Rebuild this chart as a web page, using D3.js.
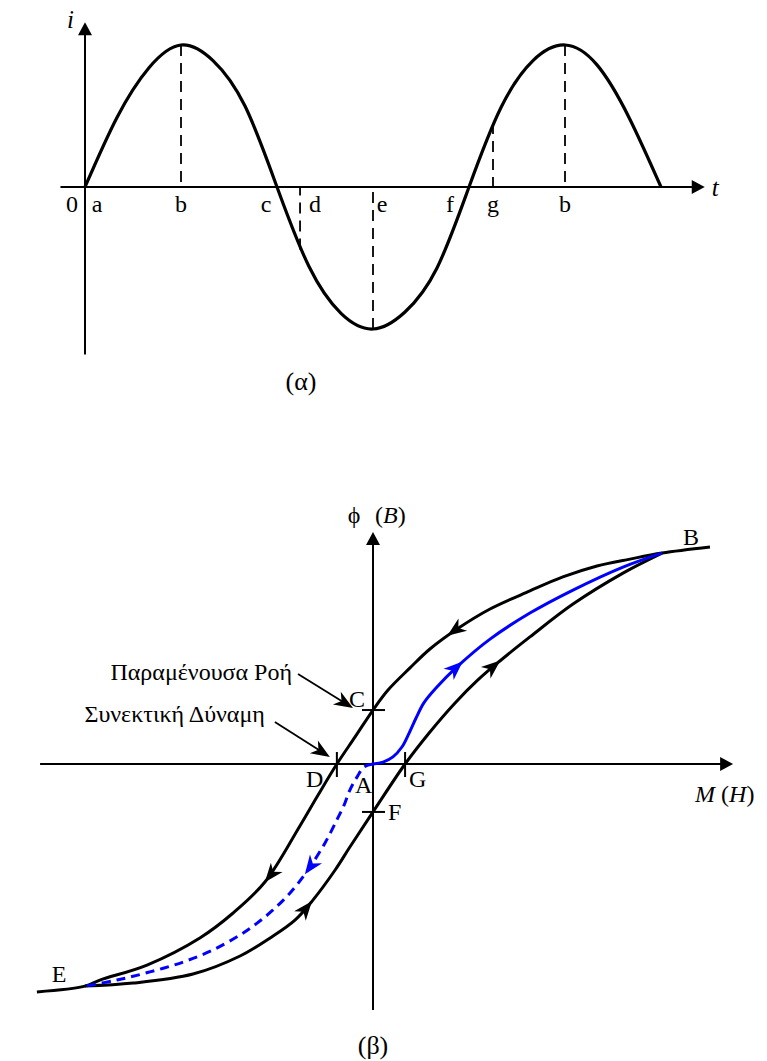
<!DOCTYPE html>
<html>
<head>
<meta charset="utf-8">
<script src="https://cdn.jsdelivr.net/npm/d3@7"></script>
<style>
  body { margin: 0; background: #fff; }
  svg { display: block; }
  text { font-family: "Liberation Serif", "Times New Roman", serif; fill: #000; }
</style>
</head>
<body>
<svg id="fig" width="767" height="1061"></svg>
<script>
// ---------- (α) alternating current i(t) ----------
const phaseDeg = [0, 30, 60, 90, 120, 150, 180, 210, 240, 270, 300, 330, 360, 390, 420, 450, 480, 510, 540];
const currentI = [0, 0.49, 0.84, 1, 0.89, 0.57, 0, -0.56, -0.89, -1, -0.88, -0.57, 0, 0.56, 0.89, 1, 0.86, 0.49, 0];
const tAxisExtent = [-23, 581];
const iAxisExtent = [-1.18, 1.16];
const markLabel = ["0", "a", "b", "c", "d", "e", "f", "g", "b"];
const markPhase = [0, 0, 90, 180, 201.6, 270, 360, 382.5, 450];
const guidePhase = [90, 201.6, 270, 382.5, 450];
const guideLevel = [1, -0.44, -1, 0.45, 1];

// ---------- (β) hysteresis loop φ(B) vs M(H) ----------
const upperH = [11.66, 10.00, 8.89, 7.75, 6.57, 5.43, 4.05, 2.91, 1.97, 1.28, 0.52, 0.00, -0.62, -1.25, -1.90, -2.53, -3.74, -4.84, -5.99, -7.82, -9.45, -9.97, -11.63];
const upperB = [10.09, 9.81, 9.53, 9.21, 8.70, 8.05, 7.21, 6.28, 5.35, 4.47, 3.44, 2.51, 1.26, 0.00, -1.44, -2.88, -5.49, -6.93, -8.09, -9.35, -10.05, -10.33, -10.60];
const lowerH = [-9.97, -8.30, -6.23, -4.60, -3.56, -2.70, -2.08, -1.31, -0.80, 0.00, 1.11, 1.97, 2.84, 3.63, 4.39, 5.43, 6.92, 8.65, 10.00];
const lowerB = [-10.33, -10.19, -9.77, -8.93, -8.09, -7.26, -6.33, -4.93, -3.86, -2.23, 0.00, 1.49, 2.84, 3.91, 4.79, 5.91, 7.44, 8.88, 9.81];
const initialH = [0, 0.35, 0.69, 1.00, 1.25, 1.49, 1.76, 2.18, 2.94, 4.05, 5.43, 6.92, 8.65, 10.00];
const initialB = [0, 0.09, 0.33, 0.79, 1.44, 2.14, 2.84, 3.53, 4.56, 5.81, 7.02, 8.09, 9.16, 9.81];
const returnH = [0, -0.31, -0.55, -0.80, -1.00, -1.25, -1.66, -2.25, -2.87, -3.46, -4.01, -4.60, -5.54, -6.57, -7.72, -8.86, -9.97];
const returnB = [0, -0.14, -0.60, -1.21, -1.91, -2.60, -3.67, -4.93, -6.00, -6.79, -7.40, -7.95, -8.65, -9.21, -9.67, -10.05, -10.33];
const hAxisExtent = [-11.52, 12.46];
const bAxisExtent = [-11.44, 10.79];
const pointName = ["C", "D", "A", "G", "F", "B", "E"];
const pointH = [0, -1.25, 0, 1.11, 0, 10.00, -9.97];
const pointB = [2.51, 0, 0, 0, -2.23, 9.81, -10.33];
// direction markers on each branch: [H, B]
const upperArrows = [[2.60, 5.91], [-3.74, -5.49]];
const lowerArrows = [[-2.08, -6.42], [4.39, 4.84]];
const initialArrows = [[3.11, 4.74]];
const returnArrows = [[-2.42, -5.07]];

const svg = d3.select("#fig");
const BLUE = "#0000ff";
const FS = 24;

function zipPts(xs, ys) { return xs.map((x, k) => [x, ys[k]]); }

function triangle(g, x, y, angle, color, notched) {
  const d = notched ? "M0,0L-19,-7.5L-13.5,0L-19,7.5Z" : "M0,0L-13,-7L-13,7Z";
  g.append("path").attr("d", d)
    .attr("transform", `translate(${x},${y}) rotate(${angle})`)
    .attr("fill", color);
}

// place arrowheads on a path at the points nearest to given targets, pointing along the path
function arrowsOnPath(g, pathNode, targets, color) {
  const L = pathNode.getTotalLength();
  targets.forEach(([tx, ty]) => {
    let best = 0, bestD = Infinity;
    for (let s = 0; s <= L; s += 0.5) {
      const p = pathNode.getPointAtLength(s);
      const dd = (p.x - tx) ** 2 + (p.y - ty) ** 2;
      if (dd < bestD) { bestD = dd; best = s; }
    }
    const p = pathNode.getPointAtLength(best);
    const a = pathNode.getPointAtLength(Math.max(0, best - 4));
    const b = pathNode.getPointAtLength(Math.min(L, best + 4));
    const ang = Math.atan2(b.y - a.y, b.x - a.x) * 180 / Math.PI;
    triangle(g, p.x, p.y, ang, color, true);
  });
}

// ================= panel (α) =================
{
  const g = svg.append("g");
  const x = d3.scaleLinear().domain([0, 540]).range([85, 661]);
  const y = d3.scaleLinear().domain([-1, 1]).range([329, 45]);

  // axes
  const ax0 = x(tAxisExtent[0]), ax1 = x(tAxisExtent[1]);
  g.append("line").attr("x1", ax0).attr("x2", ax1 - 8).attr("y1", y(0)).attr("y2", y(0))
    .attr("stroke", "#000").attr("stroke-width", 2);
  triangle(g, ax1, y(0), 0, "#000", false);
  const ay0 = y(iAxisExtent[0]), ay1 = y(iAxisExtent[1]);
  g.append("line").attr("x1", x(0)).attr("x2", x(0)).attr("y1", ay0).attr("y2", ay1 + 8)
    .attr("stroke", "#000").attr("stroke-width", 2);
  triangle(g, x(0), ay1, -90, "#000", false);

  // dashed guides
  g.selectAll("line.guide").data(guidePhase).join("line").attr("class", "guide")
    .attr("x1", d => x(d)).attr("x2", d => x(d))
    .attr("y1", (d, k) => y(guideLevel[k])).attr("y2", y(0))
    .attr("stroke", "#000").attr("stroke-width", 1.8).attr("stroke-dasharray", "11,7");

  // waveform
  const line = d3.line().x(d => x(d[0])).y(d => y(d[1])).curve(d3.curveNatural);
  g.append("path").attr("d", line(zipPts(phaseDeg, currentI)))
    .attr("fill", "none").attr("stroke", "#000").attr("stroke-width", 3.2)
    .attr("stroke-linejoin", "round");

  // phase labels
  const labelDx = [-13, 12, 0, -11, 15, 9, -19, 0, 0];
  g.selectAll("text.mark").data(markLabel).join("text").attr("class", "mark")
    .attr("x", (d, k) => x(markPhase[k]) + labelDx[k]).attr("y", y(0) + 25)
    .attr("text-anchor", "middle").attr("font-size", FS).text(d => d);

  g.append("text").attr("x", x(0) - 18).attr("y", ay1 + 6).attr("font-size", 25)
    .attr("font-style", "italic").text("i");
  g.append("text").attr("x", ax1 + 7).attr("y", y(0) + 9).attr("font-size", 25)
    .attr("font-style", "italic").text("t");

  g.append("text").attr("x", 301).attr("y", 390).attr("text-anchor", "middle")
    .attr("font-size", 26).text("(α)");
}

// ================= panel (β) =================
{
  const g = svg.append("g");
  const x = d3.scaleLinear().domain([-12, 12]).range([373 - 12 * 28.9, 373 + 12 * 28.9]);
  const y = d3.scaleLinear().domain([-12, 12]).range([764 + 12 * 21.5, 764 - 12 * 21.5]);

  // axes
  const hx0 = x(hAxisExtent[0]), hx1 = x(hAxisExtent[1]);
  g.append("line").attr("x1", hx0).attr("x2", hx1 - 8).attr("y1", y(0)).attr("y2", y(0))
    .attr("stroke", "#000").attr("stroke-width", 2);
  triangle(g, hx1, y(0), 0, "#000", false);
  const vy0 = y(bAxisExtent[0]), vy1 = y(bAxisExtent[1]);
  g.append("line").attr("x1", x(0)).attr("x2", x(0)).attr("y1", vy0).attr("y2", vy1 + 8)
    .attr("stroke", "#000").attr("stroke-width", 2);
  triangle(g, x(0), vy1, -90, "#000", false);

  const line = d3.line().x(d => x(d[0])).y(d => y(d[1])).curve(d3.curveCatmullRom.alpha(0.5));

  const upper = g.append("path").attr("d", line(zipPts(upperH, upperB)))
    .attr("fill", "none").attr("stroke", "#000").attr("stroke-width", 3);
  const lower = g.append("path").attr("d", line(zipPts(lowerH, lowerB)))
    .attr("fill", "none").attr("stroke", "#000").attr("stroke-width", 3);
  const initial = g.append("path").attr("d", line(zipPts(initialH, initialB)))
    .attr("fill", "none").attr("stroke", BLUE).attr("stroke-width", 3);
  const ret = g.append("path").attr("d", line(zipPts(returnH, returnB)))
    .attr("fill", "none").attr("stroke", BLUE).attr("stroke-width", 3)
    .attr("stroke-dasharray", "9,6");

  const px = a => [x(a[0]), y(a[1])];
  arrowsOnPath(g, upper.node(), upperArrows.map(px), "#000");
  arrowsOnPath(g, lower.node(), lowerArrows.map(px), "#000");
  arrowsOnPath(g, initial.node(), initialArrows.map(px), BLUE);
  arrowsOnPath(g, ret.node(), returnArrows.map(px), BLUE);

  // tick marks at C, F (horizontal) and D, G (vertical)
  pointName.forEach((n, k) => {
    const cx = x(pointH[k]), cy = y(pointB[k]);
    if (n === "C" || n === "F") {
      g.append("line").attr("x1", cx - 11).attr("x2", cx + 12).attr("y1", cy).attr("y2", cy)
        .attr("stroke", "#000").attr("stroke-width", 2);
    } else if (n === "D" || n === "G") {
      g.append("line").attr("x1", cx).attr("x2", cx).attr("y1", cy - 12).attr("y2", cy + 13)
        .attr("stroke", "#000").attr("stroke-width", 2);
    }
  });

  // point labels
  const lblOff = { C: [-24, -3], D: [-31, 23], A: [-18, 29], G: [4, 23], F: [15, 8], B: [21, -8], E: [-33, -4] };
  pointName.forEach((n, k) => {
    const o = lblOff[n];
    g.append("text").attr("x", x(pointH[k]) + o[0]).attr("y", y(pointB[k]) + o[1])
      .attr("font-size", FS).text(n);
  });

  // axis titles
  g.append("text").attr("x", x(0) - 19).attr("y", vy1 - 9).attr("text-anchor", "middle")
    .attr("font-size", FS).text("ϕ");
  const bt = g.append("text").attr("x", x(0) + 2).attr("y", vy1 - 9).attr("font-size", FS);
  bt.append("tspan").text("(");
  bt.append("tspan").attr("font-style", "italic").text("B");
  bt.append("tspan").text(")");

  const mt = g.append("text").attr("x", hx1 - 38).attr("y", y(0) + 38).attr("font-size", FS);
  mt.append("tspan").attr("font-style", "italic").text("M");
  mt.append("tspan").text("  (");
  mt.append("tspan").attr("font-style", "italic").text("H");
  mt.append("tspan").text(")");

  // annotations pointing at C and D
  const iC = pointName.indexOf("C"), iD = pointName.indexOf("D");
  const notes = [
    { text: "Παραμένουσα Ροή", k: iC, from: [-75, -36], to: [-20, -2], tx: -6, ty: 6 },
    { text: "Συνεκτική Δύναμη", k: iD, from: [-62, -42], to: [-7, -7], tx: -10, ty: 0 }
  ];
  notes.forEach(nt => {
    const cx = x(pointH[nt.k]), cy = y(pointB[nt.k]);
    const x0 = cx + nt.from[0], y0 = cy + nt.from[1];
    const x1 = cx + nt.to[0], y1 = cy + nt.to[1];
    const ang = Math.atan2(y1 - y0, x1 - x0);
    g.append("line").attr("x1", x0).attr("y1", y0)
      .attr("x2", x1 - 12 * Math.cos(ang)).attr("y2", y1 - 12 * Math.sin(ang))
      .attr("stroke", "#000").attr("stroke-width", 1.8);
    triangle(g, x1, y1, ang * 180 / Math.PI, "#000", true);
    g.append("text").attr("x", x0 + nt.tx).attr("y", y0 + nt.ty).attr("text-anchor", "end")
      .attr("font-size", FS).text(nt.text);
  });

  g.append("text").attr("x", x(0)).attr("y", 1054).attr("text-anchor", "middle")
    .attr("font-size", 26).text("(β)");
}
</script>
</body>
</html>
